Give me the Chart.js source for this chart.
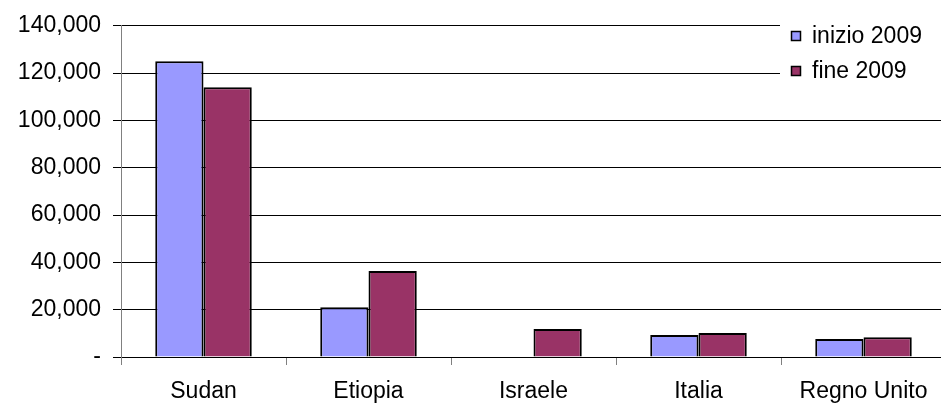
<!DOCTYPE html>
<html>
<head>
<meta charset="utf-8">
<script src="https://cdn.jsdelivr.net/npm/chart.js@4.4.1/dist/chart.umd.min.js"></script>
<style>
  html, body { margin: 0; padding: 0; background: #fff; overflow: hidden; }
  #wrap { position: relative; width: 946px; height: 407px; }
</style>
</head>
<body>
<div id="wrap"><canvas id="c"></canvas></div>
<script>
// Paesi e valori
const categories = ['Sudan', 'Etiopia', 'Israele', 'Italia', 'Regno Unito'];
const seriesNames = ['inizio 2009', 'fine 2009'];
const inizio2009 = [125000, 21000, null, 9300, 7600];
const fine2009 = [114000, 36300, 11800, 10100, 8300];
const yTickLabels = ['-', '20,000', '40,000', '60,000', '80,000', '100,000', '120,000', '140,000'];

const FONT = { family: '"Liberation Sans", Arial, sans-serif', size: 23 };

// Legenda disegnata dentro l'area del grafico, in alto a destra
const insideLegend = {
  id: 'insideLegend',
  afterDraw(chart) {
    const ctx = chart.ctx;
    const left = 780;
    ctx.save();
    ctx.fillStyle = '#ffffff';
    ctx.fillRect(left, 14, chart.width - left, 76);
    ctx.font = FONT.size + 'px ' + FONT.family;
    ctx.textBaseline = 'middle';
    ctx.textAlign = 'left';
    chart.data.datasets.forEach((ds, i) => {
      const cy = 36 + i * 35;
      ctx.fillStyle = ds.backgroundColor;
      ctx.fillRect(791.5, cy - 4.5, 9, 9);
      ctx.strokeStyle = '#000';
      ctx.lineWidth = 1.5;
      ctx.strokeRect(791.5, cy - 4.5, 9, 9);
      ctx.fillStyle = '#000';
      ctx.fillText(ds.label, 812, cy + 1);
    });
    ctx.restore();
  }
};

new Chart(document.getElementById('c'), {
  type: 'bar',
  data: {
    labels: categories,
    datasets: [
      { label: seriesNames[0], data: inizio2009, backgroundColor: '#9999FF', borderColor: '#000', borderWidth: 2, borderSkipped: 'bottom' },
      { label: seriesNames[1], data: fine2009, backgroundColor: '#993366', borderColor: '#000', borderWidth: 2, borderSkipped: 'bottom' }
    ]
  },
  options: {
    responsive: true,
    maintainAspectRatio: false,
    animation: false,
    layout: { padding: { top: 25, right: 0, bottom: 0, left: 0 } },
    datasets: { bar: { categoryPercentage: 0.585, barPercentage: 1.0 } },
    plugins: {
      legend: { display: false },
      tooltip: { enabled: false }
    },
    scales: {
      x: {
        offset: true,
        grid: { offset: true, drawOnChartArea: false, color: '#808080', tickLength: 8, lineWidth: 1 },
        border: { color: '#000', width: 1 },
        ticks: { color: '#000', font: FONT, padding: 13, maxRotation: 0, autoSkip: false },
        afterFit(scale) { scale.height = 50; }
      },
      y: {
        min: 0,
        max: 140000,
        ticks: {
          stepSize: 20000,
          color: '#000',
          font: FONT,
          padding: 12,
          callback: (v, i) => yTickLabels[i]
        },
        grid: { color: '#000', lineWidth: 1, tickLength: 8 },
        border: { color: '#808080', width: 1 },
        afterFit(scale) { scale.width = 121; }
      }
    }
  },
  plugins: [insideLegend]
});
</script>
</body>
</html>
